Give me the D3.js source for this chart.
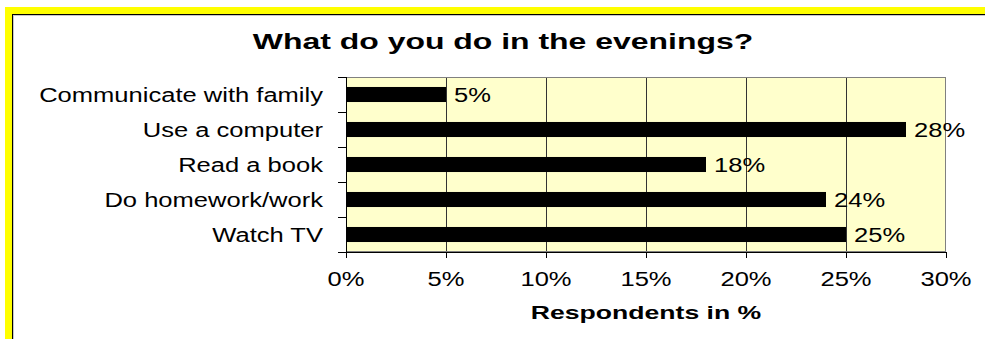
<!DOCTYPE html>
<html>
<head>
<meta charset="utf-8">
<script src="https://cdn.jsdelivr.net/npm/d3@7"></script>
<style>
  html, body { margin: 0; padding: 0; background: #ffffff; }
  svg { display: block; }
  text { font-family: "Liberation Sans", Arial, sans-serif; fill: #000; }
</style>
</head>
<body>
<svg id="chart" width="985" height="339"></svg>
<script>
// Survey answers, listed top to bottom
const categories = [
  "Communicate with family",
  "Use a computer",
  "Read a book",
  "Do homework/work",
  "Watch TV"
];
const values = [5, 28, 18, 24, 25];
const xTicks = [0, 5, 10, 15, 20, 25, 30];
const chartTitle = "What do you do in the evenings?";
const xTitle = "Respondents in %";

const svg = d3.select("#chart");
const W = 985, H = 339;

// Horizontal stretch applied to all text
const SX = 1.31;

// Frame: yellow edge bands with a dark rule and soft shadow line
svg.append("rect").attr("x", 5).attr("y", 7).attr("width", W - 5).attr("height", 7).attr("fill", "#ffff00");
svg.append("rect").attr("x", 5).attr("y", 7).attr("width", 7).attr("height", H - 7).attr("fill", "#ffff00");
svg.append("rect").attr("x", 12).attr("y", 14).attr("width", W - 12).attr("height", 1).attr("fill", "#000");
svg.append("rect").attr("x", 12).attr("y", 14).attr("width", 1).attr("height", H - 14).attr("fill", "#000");
svg.append("rect").attr("x", 13).attr("y", 15).attr("width", W - 13).attr("height", 1).attr("fill", "#c8c8c8");
svg.append("rect").attr("x", 13).attr("y", 15).attr("width", 1).attr("height", H - 15).attr("fill", "#c8c8c8");

const plot = { left: 346, right: 946, top: 77, bottom: 252 };

const x = d3.scaleLinear().domain([0, 30]).range([plot.left, plot.right]);
const y = d3.scaleBand().domain(categories).range([plot.top, plot.bottom]).paddingInner(0.57).paddingOuter(0.285);
const yb = d3.scaleBand().domain(categories).range([plot.top, plot.bottom]);

function stretchedText(g, tx, ty, str, size, weight, anchor, sx) {
  return g.append("text")
    .attr("transform", `translate(${tx},${ty}) scale(${sx},1)`)
    .attr("text-anchor", anchor)
    .style("font-size", size + "px")
    .style("font-weight", weight)
    .text(str);
}

// Plot background
svg.append("rect")
  .attr("x", plot.left).attr("y", plot.top)
  .attr("width", plot.right - plot.left).attr("height", plot.bottom - plot.top)
  .attr("fill", "#ffffcc");

// Vertical gridlines
svg.append("g").selectAll("line").data(xTicks.slice(1, -1)).join("line")
  .attr("x1", d => Math.round(x(d)) + 0.5).attr("x2", d => Math.round(x(d)) + 0.5)
  .attr("y1", plot.top).attr("y2", plot.bottom)
  .attr("stroke", "#333").attr("stroke-width", 1);

// Plot border
svg.append("rect")
  .attr("x", plot.left + 0.5).attr("y", plot.top + 0.5)
  .attr("width", plot.right - plot.left - 1).attr("height", plot.bottom - plot.top - 1)
  .attr("fill", "none").attr("stroke", "#808080").attr("stroke-width", 1);

// Bars
svg.append("g").selectAll("rect").data(categories).join("rect")
  .attr("x", x(0))
  .attr("y", d => y(d))
  .attr("width", (d, i) => x(values[i]) - x(0))
  .attr("height", y.bandwidth())
  .attr("fill", "#000");

// Value labels
const vl = svg.append("g");
categories.forEach((c, i) => {
  stretchedText(vl, x(values[i]) + 8, yb(c) + yb.bandwidth() / 2 + 7, values[i] + "%", 19.5, "normal", "start", SX);
});

// Y axis line and category ticks
const ya = svg.append("g");
ya.append("line").attr("x1", plot.left + 0.5).attr("x2", plot.left + 0.5)
  .attr("y1", plot.top).attr("y2", plot.bottom).attr("stroke", "#000");
const yEdges = categories.map(c => yb(c)).concat([plot.bottom]);
ya.selectAll("line.tk").data(yEdges).join("line").attr("class", "tk")
  .attr("x1", plot.left - 8).attr("x2", plot.left)
  .attr("y1", d => Math.round(d) + 0.5).attr("y2", d => Math.round(d) + 0.5)
  .attr("stroke", "#000");

// Category labels
categories.forEach(c => {
  stretchedText(ya, 323, yb(c) + yb.bandwidth() / 2 + 7, c, 19.5, "normal", "end", SX);
});

// X axis
const xa = svg.append("g");
xa.append("line").attr("x1", plot.left).attr("x2", plot.right)
  .attr("y1", plot.bottom + 0.5).attr("y2", plot.bottom + 0.5).attr("stroke", "#000");
xa.selectAll("line.tk").data(xTicks).join("line").attr("class", "tk")
  .attr("x1", d => Math.round(x(d)) + 0.5).attr("x2", d => Math.round(x(d)) + 0.5)
  .attr("y1", plot.bottom).attr("y2", plot.bottom + 6)
  .attr("stroke", "#000");
xTicks.forEach(t => {
  stretchedText(xa, x(t), 286, t + "%", 19.5, "normal", "middle", SX);
});

// Axis title
stretchedText(svg, (plot.left + plot.right) / 2, 319, xTitle, 18.6, "bold", "middle", 1.43);

// Chart title
stretchedText(svg, 503, 49, chartTitle, 22.5, "bold", "middle", 1.42);
</script>
</body>
</html>
